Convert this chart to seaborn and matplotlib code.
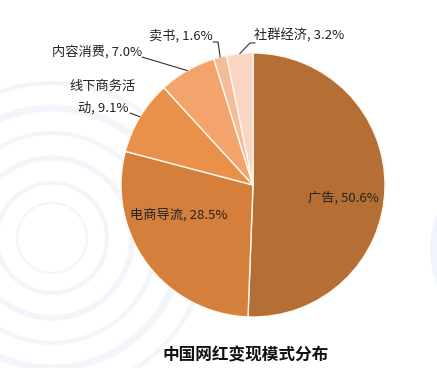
import numpy as np
import matplotlib
matplotlib.use("Agg")
import matplotlib.pyplot as plt
import seaborn as sns
from matplotlib.patches import Circle, Arc

categories = ["广告", "电商导流", "线下商务活动", "内容消费", "卖书", "社群经济"]
values = [50.6, 28.5, 9.1, 7.0, 1.6, 3.2]
colors = ["#B56E34", "#D4803C", "#E9914A", "#F2A46C", "#F5BC99", "#F9D5C3"]
title = "中国网红变现模式分布"

sns.set_theme(style="white")
plt.rcParams["font.family"] = ["Noto Sans CJK SC", "DejaVu Sans"]

W, H = 437, 368
fig = plt.figure(figsize=(W / 100, H / 100), dpi=100)
ax = fig.add_axes([0, 0, 1, 1])
ax.set_xlim(0, W)
ax.set_ylim(0, H)
ax.set_aspect("equal")
ax.axis("off")

def Y(y):
    return H - y

# faint decorative background
bg = "#F3F5FB"
for r, lw in [(35, 1.5), (55, 3), (80, 4), (105, 3), (130, 5), (155, 3)]:
    ax.add_patch(Arc((52, Y(238)), 2 * r, 2 * r, lw=lw, color=bg, zorder=0))
ax.add_patch(Circle((525, Y(250)), 95, color="#F1F4FB", zorder=0, lw=0))

cx, cy, R = 253, Y(185), 132
wedges, _ = ax.pie(values, colors=colors, startangle=90, counterclock=False,
                   center=(cx, cy), radius=R, frame=True,
                   wedgeprops=dict(edgecolor="#FFF8F0", linewidth=1.0))
ax.set_xlim(0, W)
ax.set_ylim(0, H)
ax.axis("off")

fs = 9.5
lab = [f"{c}, {v:.1f}%" for c, v in zip(categories, values)]

def edge_pt(w, f=1.0):
    a = np.deg2rad((w.theta1 + w.theta2) / 2)
    return cx + R * f * np.cos(a), cy + R * f * np.sin(a)

# inside labels
ax.text(343, Y(198), lab[0], fontsize=fs, ha="center", va="center", color="#222222")
ax.text(179, Y(215), lab[1], fontsize=fs, ha="center", va="center", color="#222222")

# outside labels with leader lines
lc = "#333333"
ax.text(103, Y(86), "线下商务活", fontsize=fs, ha="center", va="center", color="#222222")
ax.text(103, Y(108), f"动, {values[2]:.1f}%", fontsize=fs, ha="center", va="center", color="#222222")
ex, ey = edge_pt(wedges[2])
ax.plot([130, ex], [Y(113), ey], color=lc, lw=0.8)
ax.text(97, Y(52), lab[3], fontsize=fs, ha="center", va="center", color="#222222")
ex, ey = edge_pt(wedges[3])
ax.plot([142, ex], [Y(57), ey], color=lc, lw=0.8)
ax.text(181, Y(36), lab[4], fontsize=fs, ha="center", va="center", color="#222222")
ex, ey = edge_pt(wedges[4])
ax.plot([213, 218, ex], [Y(42), Y(42), ey], color=lc, lw=0.8)
ax.text(299, Y(36), lab[5], fontsize=fs, ha="center", va="center", color="#222222")
ex, ey = edge_pt(wedges[5])
ax.plot([255, 250, ex], [Y(43), Y(43), ey], color=lc, lw=0.8)

ax.text(246, Y(355), title, fontsize=12, fontweight="bold", ha="center", va="center", color="#111111")

fig.savefig("out.png", dpi=100)
